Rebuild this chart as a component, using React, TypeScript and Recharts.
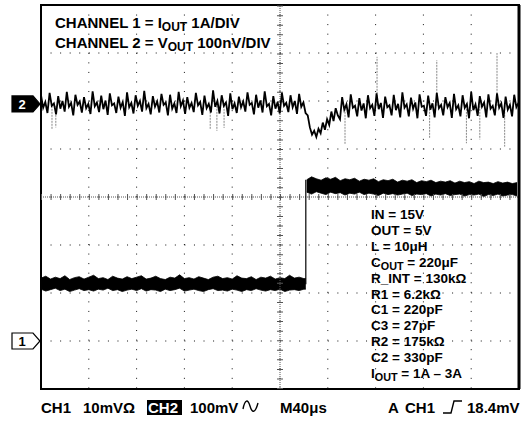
import React from 'react';
import {
  ComposedChart,
  Line,
  Area,
  XAxis,
  YAxis,
  CartesianGrid,
  ReferenceLine,
  ReferenceArea,
  ReferenceDot,
} from 'recharts';

// screen is 10 x 8 divisions
const xTicks = [0, 1, 2, 3, 4, 5, 6, 7, 8, 9, 10];
const yTicks = [0, 1, 2, 3, 4, 5, 6, 7, 8];

// channel ground markers (in divisions)
const ch1Marker = 1.0;
const ch2Marker = 5.94;

// CH2: V_OUT ripple, one sample every 0.045 div
const ch2Step = 0.045;
const ch2Values = [
  6.12, 5.86, 5.98, 5.75, 6.17, 5.9, 5.95, 5.72, 6.1, 5.84, 6.0, 5.78,
  6.19, 5.88, 5.96, 5.7, 6.13, 5.92, 5.99, 5.76, 6.08, 5.85, 5.94, 5.73,
  6.2, 5.89, 5.97, 5.77, 6.11, 5.83, 6.01, 5.71, 6.16, 5.91, 5.95, 5.75,
  6.09, 5.86, 5.98, 5.69, 6.18, 5.87, 5.96, 5.74, 6.12, 5.9, 6.0, 5.78,
  6.21, 5.85, 5.94, 5.72, 6.1, 5.88, 5.99, 5.76, 6.15, 5.92, 5.97, 5.7,
  6.13, 5.84, 5.95, 5.75, 6.19, 5.89, 6.01, 5.73, 6.08, 5.86, 5.96, 5.77,
  6.17, 5.91, 5.98, 5.71, 6.11, 5.85, 5.94, 5.76, 6.22, 5.88, 6.0, 5.74,
  6.12, 5.9, 5.97, 5.69, 6.16, 5.83, 5.95, 5.75, 6.09, 5.87, 5.99, 5.78,
  6.18, 5.92, 5.96, 5.72, 6.13, 5.86, 6.01, 5.76, 6.2, 5.89, 5.94, 5.7,
  6.1, 5.84, 5.98, 5.74, 6.17, 5.9, 5.96, 5.77, 6.12, 5.87, 6.0, 5.73,
  6.15, 5.88, 5.97, 5.75,
  // load step: droop and recovery
  5.7, 5.45, 5.3, 5.38, 5.25, 5.42, 5.33, 5.55, 5.4, 5.62, 5.5, 5.78,
  5.58, 5.85, 5.7, 5.62,
  6.08, 5.82, 5.93, 5.66, 6.14, 5.86, 5.9, 5.68, 6.06, 5.8, 5.95, 5.64,
  6.12, 5.85, 5.92, 5.69, 6.16, 5.83, 5.96, 5.65, 6.09, 5.87, 5.91, 5.7,
  6.13, 5.81, 5.94, 5.66, 6.18, 5.86, 5.93, 5.68, 6.07, 5.84, 5.97, 5.64,
  6.14, 5.88, 5.9, 5.69, 6.11, 5.82, 5.95, 5.66, 6.17, 5.85, 5.92, 5.7,
  6.08, 5.87, 5.96, 5.65, 6.15, 5.83, 5.91, 5.68, 6.12, 5.86, 5.94, 5.64,
  6.19, 5.81, 5.93, 5.69, 6.1, 5.88, 5.97, 5.66, 6.14, 5.84, 5.9, 5.7,
  6.16, 5.86, 5.95, 5.65, 6.09, 5.82, 5.92, 5.68, 6.13, 5.87, 5.96,
];

// CH2 glitches (grey spikes)
const spikeBase = 5.9;
const spikeX = [0.23, 0.31, 3.54, 3.68, 3.83, 6.36, 7.03, 8.13, 8.28, 8.9, 9.18, 9.54, 9.7];
const spikeTip = [5.42, 5.45, 5.4, 5.38, 5.44, 5.1, 6.92, 5.22, 6.85, 5.12, 5.2, 7.0, 5.05];

// CH1: I_OUT, noise band before the load step (every 0.1 div)
const lowHi = [
  2.31, 2.35, 2.29, 2.33, 2.3, 2.36, 2.28, 2.32, 2.34, 2.29,
  2.33, 2.37, 2.3, 2.32, 2.28, 2.35, 2.31, 2.29, 2.34, 2.3,
  2.33, 2.36, 2.29, 2.31, 2.35, 2.3, 2.28, 2.33, 2.31, 2.38,
  2.3, 2.32, 2.29, 2.34, 2.31, 2.28, 2.33, 2.35, 2.3, 2.32,
  2.29, 2.36, 2.31, 2.3, 2.34, 2.28, 2.33, 2.31, 2.35, 2.29,
  2.32, 2.3, 2.37, 2.31, 2.33, 2.3,
];
const lowLo = [
  2.08, 2.04, 2.07, 2.1, 2.05, 2.08, 2.03, 2.06, 2.09, 2.05,
  2.07, 2.04, 2.08, 2.06, 2.1, 2.05, 2.07, 2.03, 2.06, 2.08,
  2.05, 2.09, 2.04, 2.07, 2.06, 2.03, 2.08, 2.05, 2.07, 2.1,
  2.04, 2.06, 2.08, 2.05, 2.03, 2.07, 2.09, 2.05, 2.06, 2.04,
  2.08, 2.06, 2.03, 2.07, 2.05, 2.09, 2.06, 2.04, 2.07, 2.05,
  2.08, 2.03, 2.06, 2.07, 2.05, 2.08,
];

// CH1 after the step (starts at 5.56 div, every 0.1 div)
const stepAt = 5.54;
const highStart = 5.56;
const highHi = [
  4.36, 4.42, 4.38, 4.35, 4.4, 4.37, 4.41, 4.34, 4.38, 4.36,
  4.39, 4.33, 4.37, 4.35, 4.38, 4.32, 4.36, 4.34, 4.37, 4.31,
  4.35, 4.33, 4.36, 4.3, 4.34, 4.32, 4.35, 4.3, 4.33, 4.31,
  4.34, 4.29, 4.33, 4.3, 4.32, 4.28, 4.33, 4.3, 4.31, 4.28,
  4.32, 4.29, 4.31, 4.28, 4.3,
];
const highLo = [
  4.1, 4.06, 4.11, 4.08, 4.05, 4.1, 4.07, 4.09, 4.04, 4.08,
  4.06, 4.1, 4.05, 4.08, 4.06, 4.03, 4.08, 4.05, 4.07, 4.04,
  4.06, 4.08, 4.03, 4.06, 4.05, 4.07, 4.02, 4.06, 4.04, 4.07,
  4.03, 4.05, 4.06, 4.02, 4.05, 4.04, 4.06, 4.01, 4.05, 4.03,
  4.06, 4.02, 4.04, 4.05, 4.02,
];

const headerLines = ['CHANNEL 1 = ', 'CHANNEL 2 = '];
const headerSub = ['I', 'V'];
const headerTail = [' 1A/DIV', ' 100nV/DIV'];

const paramLabels = [
  'IN = 15V',
  'OUT = 5V',
  'L = 10\u03bcH',
  'C|OUT| = 220\u03bcF',
  'R_INT = 130k\u03a9',
  'R1 = 6.2k\u03a9',
  'C1 = 220pF',
  'C3 = 27pF',
  'R2 = 175k\u03a9',
  'C2 = 330pF',
  'I|OUT| = 1A \u2013 3A',
];

const FONT = '"Liberation Sans", Arial, Helvetica, sans-serif';

const ch2Data = ch2Values.map((v, i) => ({ t: +(i * ch2Step).toFixed(3), v }));
const spikeData = spikeX.flatMap((x, i) => [
  { t: x, s: spikeBase },
  { t: x, s: spikeTip[i] },
  { t: x + 0.001, s: null },
]);
const lowBand = lowHi.map((hi, i) => ({ t: +(i * 0.1).toFixed(2), band: [lowLo[i], hi] }));
lowBand.push({ t: stepAt, band: [lowLo[lowLo.length - 1], lowHi[lowHi.length - 1]] });
const highBand = highHi.map((hi, i) => ({
  t: +(highStart + i * 0.1).toFixed(2),
  band: [highLo[i], hi],
}));
const stepData = [
  { t: stepAt, v: lowLo[lowLo.length - 1] + 0.1 },
  { t: stepAt, v: highHi[0] },
];

function ChannelMarker(props: any) {
  const { cx, cy, label, filled } = props;
  const tip = cx - 1;
  const path = `M${tip - 28} ${cy - 8} L${tip - 7} ${cy - 8} L${tip} ${cy} L${tip - 7} ${cy + 8} L${tip - 28} ${cy + 8} Z`;
  return (
    <g>
      <path d={path} fill={filled ? '#000' : '#fff'} stroke="#000" strokeWidth={1.2} />
      <text
        x={tip - 18}
        y={cy + 5}
        textAnchor="middle"
        fontFamily={FONT}
        fontWeight="bold"
        fontSize={13}
        fill={filled ? '#fff' : '#000'}
      >
        {label}
      </text>
    </g>
  );
}

function SubLabel({ text, x, y, size }: { text: string; x: number; y: number; size: number }) {
  const parts = text.split('|');
  return (
    <text x={x} y={y} fontFamily={FONT} fontWeight="bold" fontSize={size} fill="#000">
      {parts[0]}
      {parts.length > 1 && (
        <>
          <tspan fontSize={size * 0.8} dy={3}>{parts[1]}</tspan>
          <tspan dy={-3}>{parts[2]}</tspan>
        </>
      )}
    </text>
  );
}

export default function App() {
  return (
    <div style={{ position: 'absolute', left: 0, top: 0, width: 530, height: 423, background: '#fff' }}>
      <ComposedChart
        width={530}
        height={423}
        margin={{ top: 5, right: 11, bottom: 34, left: 41 }}
      >
        <XAxis type="number" dataKey="t" domain={[0, 10]} ticks={xTicks} hide allowDuplicatedCategory={false} />
        <YAxis type="number" domain={[0, 8]} ticks={yTicks} hide />
        <CartesianGrid stroke="#111" strokeDasharray="1 8.56" />

        {/* centre graticule with minor ticks */}
        <ReferenceLine x={5} stroke="#555" strokeDasharray="1 1" />
        <ReferenceLine x={5} stroke="#555" strokeWidth={6} strokeDasharray="1 8.56" />
        <ReferenceLine y={4} stroke="#555" strokeDasharray="1 1" />
        <ReferenceLine y={4} stroke="#555" strokeWidth={6} strokeDasharray="1 8.56" />

        {/* CH1 current */}
        <Area data={lowBand} dataKey="band" type="linear" stroke="#000" strokeWidth={0.8} fill="#000" fillOpacity={1} isAnimationActive={false} />
        <Area data={highBand} dataKey="band" type="linear" stroke="#000" strokeWidth={0.8} fill="#000" fillOpacity={1} isAnimationActive={false} />
        <Line data={stepData} dataKey="v" type="linear" stroke="#000" strokeWidth={1.2} dot={false} isAnimationActive={false} />

        {/* CH2 ripple */}
        <Line data={spikeData} dataKey="s" type="linear" stroke="#888" strokeWidth={1} strokeDasharray="2 1" dot={false} connectNulls={false} isAnimationActive={false} />
        <Line data={ch2Data} dataKey="v" type="linear" stroke="#000" strokeWidth={1.8} dot={false} isAnimationActive={false} />

        <ReferenceArea x1={0} x2={10} y1={0} y2={8} fill="none" stroke="#000" strokeWidth={2} ifOverflow="visible" />
        <ReferenceLine x={10} stroke="#000" strokeWidth={3} />

        <ReferenceDot x={0} y={ch2Marker} ifOverflow="visible" shape={(p: any) => <ChannelMarker {...p} label="2" filled />} />
        <ReferenceDot x={0} y={ch1Marker} ifOverflow="visible" shape={(p: any) => <ChannelMarker {...p} label="1" />} />

        {headerLines.map((h, i) => (
          <SubLabel key={h} text={`${h}${headerSub[i]}|OUT|${headerTail[i]}`} x={55} y={28 + i * 19.5} size={15} />
        ))}

        {paramLabels.map((p, i) => (
          <SubLabel key={p} text={p} x={371} y={219 + i * 15.9} size={13.5} />
        ))}

        <g fontFamily={FONT} fontWeight="bold" fontSize={15} fill="#000">
          <text x={41} y={413}>CH1</text>
          <text x={83} y={413}>10mV{'\u03a9'}</text>
          <rect x={147} y={400} width={35} height={15} fill="#000" />
          <text x={148} y={413} fill="#fff">CH2</text>
          <text x={190} y={413}>100mV</text>
          <path d="M243 409 C245 399, 248 399, 250 406 S255 414, 258 403" fill="none" stroke="#000" strokeWidth={1.4} />
          <text x={280} y={413}>M40{'\u03bc'}s</text>
          <text x={388} y={413}>A</text>
          <text x={405} y={413}>CH1</text>
          <path d="M443 413 L451 413 L454 401 L462 401" fill="none" stroke="#000" strokeWidth={1.4} />
          <text x={467} y={413}>18.4mV</text>
        </g>
      </ComposedChart>
    </div>
  );
}
